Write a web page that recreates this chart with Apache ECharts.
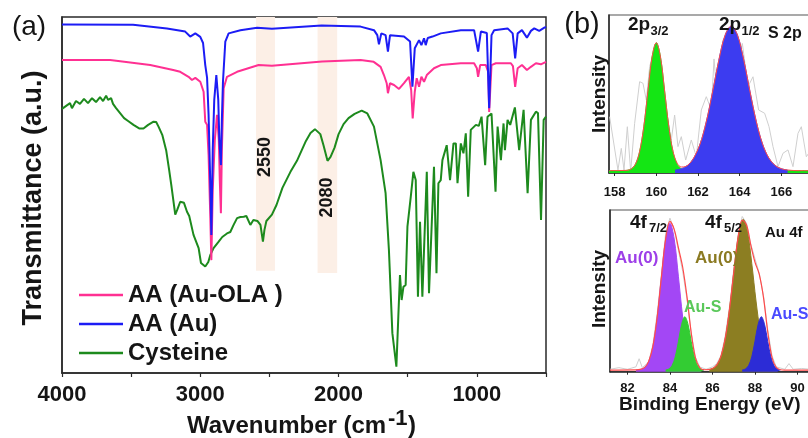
<!DOCTYPE html>
<html><head><meta charset="utf-8">
<script src="https://cdn.jsdelivr.net/npm/echarts@6/dist/echarts.min.js"></script>
<style>html,body{margin:0;padding:0;background:#fff;overflow:hidden}#c{width:840px;height:438px}</style>
</head><body><div id="c"></div>
<script>
// ---------- Panel (a): FTIR ----------
const ftirTickLabels = [4000, 3000, 2000, 1000];
const ftirLegend = ['AA (Au-OLA )', 'AA (Au)', 'Cysteine'];
const ftirBands = [[2597, 2460, 28.7], [2152, 2010, 28.1]];
const ftirBandLabels = ['2550', '2080'];

const ftirAuOLA = [[4000,87.9],[3652,87.9],[3362,86.5],[3196,85.1],[3145,84.6],[3085,83.2],[3060,82.3],[3036,82.9],[3000,81.8],[2976,79.0],[2964,70.6],[2951,69.7],[2940,61.2],[2928,44.4],[2920,31.7],[2910,51.4],[2895,65.4],[2879,72.5],[2866,65.4],[2859,54.2],[2851,44.9],[2844,62.6],[2831,80.0],[2807,83.2],[2734,84.6],[2578,86.5],[2482,86.3],[2119,87.5],[1841,87.9],[1746,87.4],[1696,86.0],[1672,83.7],[1652,81.4],[1643,78.6],[1628,81.4],[1599,80.9],[1563,79.8],[1527,81.4],[1491,83.2],[1475,79.5],[1464,71.5],[1449,79.0],[1435,82.8],[1418,80.4],[1401,83.2],[1382,81.8],[1362,83.7],[1310,85.6],[1261,86.5],[1116,87.0],[1020,87.0],[1000,85.6],[991,83.2],[976,86.5],[935,86.5],[918,84.6],[911,73.3],[894,86.5],[863,87.0],[754,87.0],[739,86.2],[723,80.4],[705,85.6],[674,86.5],[638,85.1],[609,86.0],[573,87.0],[537,86.7],[500,87.4]];

const ftirAu = [[4000,97.9],[3486,97.8],[3241,96.8],[3109,95.9],[3073,94.5],[3036,95.4],[3000,94.4],[2980,92.7],[2964,86.5],[2951,83.0],[2940,72.5],[2928,53.7],[2920,38.8],[2910,62.6],[2899,76.7],[2884,83.7],[2870,76.7],[2862,65.4],[2851,58.4],[2844,71.1],[2836,81.8],[2819,93.1],[2795,95.4],[2710,96.3],[2589,97.0],[2482,96.7],[2123,97.6],[1841,97.3],[1744,96.3],[1720,94.9],[1708,92.3],[1691,95.4],[1660,94.9],[1643,90.3],[1628,94.9],[1527,94.5],[1483,93.1],[1466,80.4],[1449,91.2],[1418,93.5],[1401,92.1],[1382,94.0],[1370,92.1],[1355,94.1],[1321,94.5],[1261,95.4],[1116,96.3],[1020,96.3],[991,90.3],[971,95.9],[928,95.5],[911,74.4],[894,94.9],[875,96.3],[778,96.8],[741,95.4],[723,88.4],[705,95.4],[674,96.3],[638,94.2],[609,96.1],[585,96.8],[549,96.1],[512,97.0],[500,97.2]];

const ftirCysteine = [[4000,74.2],[3942,75.8],[3928,74.4],[3899,76.4],[3870,75.6],[3841,77.0],[3812,75.8],[3783,77.2],[3754,76.1],[3725,77.5],[3703,76.4],[3681,77.9],[3667,76.7],[3645,77.2],[3631,75.6],[3609,74.4],[3580,73.0],[3551,71.6],[3522,70.8],[3483,69.7],[3442,68.7],[3411,68.7],[3377,69.7],[3338,70.6],[3319,70.5],[3302,69.2],[3275,66.9],[3246,62.4],[3225,57.0],[3210,52.9],[3181,44.5],[3167,45.8],[3145,48.1],[3118,47.8],[3096,45.3],[3080,44.1],[3049,38.8],[3012,35.1],[2995,30.9],[2964,29.9],[2942,31.2],[2928,33.1],[2904,35.1],[2867,36.9],[2841,38.2],[2807,39.2],[2783,39.6],[2759,41.6],[2734,43.5],[2710,43.8],[2686,43.9],[2667,44.1],[2638,41.6],[2616,43.0],[2587,42.7],[2565,41.6],[2547,36.9],[2536,40.2],[2522,42.7],[2482,44.5],[2449,47.2],[2406,52.0],[2348,56.5],[2301,59.6],[2236,65.2],[2203,67.4],[2171,68.5],[2132,67.1],[2109,64.0],[2080,59.6],[2058,60.7],[2029,63.3],[2000,67.1],[1964,69.9],[1928,71.6],[1884,72.8],[1833,73.7],[1792,72.9],[1744,69.2],[1696,59.8],[1660,50.5],[1636,34.6],[1611,11.2],[1582,1.8],[1568,15.8],[1556,27.5],[1544,20.5],[1531,24.2],[1515,24.7],[1502,41.1],[1478,49.5],[1459,56.5],[1442,54.2],[1426,21.4],[1411,42.5],[1394,21.4],[1362,56.5],[1346,22.4],[1310,57.9],[1292,28.0],[1278,53.3],[1261,54.2],[1249,59.8],[1218,64.0],[1194,54.2],[1169,64.5],[1152,64.5],[1140,53.3],[1116,64.5],[1097,61.7],[1080,67.3],[1063,49.5],[1044,68.3],[1007,69.7],[986,69.4],[966,72.0],[940,58.4],[923,72.0],[894,72.9],[865,50.9],[850,69.2],[826,59.8],[807,70.1],[797,62.6],[778,71.1],[759,69.7],[725,74.6],[694,62.6],[662,73.9],[633,50.5],[609,71.1],[573,73.4],[558,73.0],[536,43.0],[517,71.1],[500,72.0]];

// ---------- Panel (b) top: S 2p ----------
const s2pTicks = [158, 160, 162, 164, 166];
const s2pRaw = [[157.76,35.6],[158.16,1.9],[158.32,15.6],[158.45,1.9],[158.61,29.3],[158.77,0.8],[158.96,31.4],[159.2,57.8],[159.36,56.8],[159.52,46.2],[159.68,67.3],[159.97,82],[160.24,63],[160.48,39.9],[160.72,20.9],[160.88,36.7],[161.04,16.7],[161.2,23],[161.41,8.2],[161.68,20.9],[161.92,10.3],[162.16,39.9],[162.4,48.3],[162.64,39.9],[162.77,72.2],[162.88,54.6],[163.2,84.2],[163.6,90.5],[163.92,73.6],[164.13,82],[164.4,54.6],[164.64,60.9],[164.91,39.9],[165.2,37.8],[165.41,29.3],[165.6,16.7],[165.84,4],[166.08,12.5],[166.32,14.6],[166.56,4],[166.8,25.1],[166.96,29.3],[167.2,10.3],[167.6,18],[168,8]];
const s2p32 = [[157.73,1.5],[158.4,1.5],[158.6,1.7],[158.8,2.6],[159.0,5.6],[159.2,13.6],[159.4,29.3],[159.6,51.8],[159.8,73.5],[160.0,82.5],[160.2,73.5],[160.4,51.8],[160.6,29.3],[160.8,13.6],[161.0,5.6],[161.2,2.6],[161.4,1.7],[161.6,1.5],[168,1.5]];
const s2p12 = [[160.9,1.9],[161.2,2.7],[161.5,4.8],[161.8,9.5],[162.1,18.3],[162.4,32.5],[162.7,51.3],[163.0,71.3],[163.3,87.1],[163.6,93],[163.9,87.1],[164.2,71.3],[164.5,51.3],[164.8,32.5],[165.1,18.3],[165.4,9.5],[165.7,4.8],[166.0,2.7],[166.3,1.9]];
const s2pEnvelope = [[157.73,1.5],[158.4,1.6],[158.6,1.7],[158.8,2.6],[159.0,5.6],[159.2,13.6],[159.4,29.3],[159.6,51.8],[159.8,73.5],[160.0,82.5],[160.2,73.5],[160.4,51.8],[160.6,29.4],[160.8,13.8],[161.0,6.2],[161.2,3.8],[161.4,4.1],[161.6,6.0],[161.8,9.6],[162.1,18.3],[162.4,32.5],[162.7,51.3],[163.0,71.3],[163.3,87.1],[163.6,93],[163.9,87.1],[164.2,71.3],[164.5,51.3],[164.8,32.5],[165.1,18.3],[165.4,9.5],[165.7,4.8],[166.0,2.7],[166.3,1.9],[166.8,1.5],[168,1.5]];

// ---------- Panel (b) bottom: Au 4f ----------
const au4fTicks = [82, 84, 86, 88, 90];
const au4fRaw = [[81.18,1.5],[81.6,2.5],[82.0,1.5],[82.4,3],[82.55,8],[82.7,2.5],[83.0,6],[83.2,17],[83.4,36],[83.6,60],[83.8,86],[84.0,95],[84.2,88],[84.4,75],[84.6,62],[84.8,45],[85.0,24],[85.2,9],[85.4,3],[85.7,1.5],[86.0,3],[86.2,5],[86.4,10],[86.6,22],[86.8,40],[87.0,63],[87.2,84],[87.4,96],[87.6,92],[87.8,79],[88.0,70],[88.2,61],[88.4,47],[88.6,26],[88.8,10],[89.0,3],[89.4,1.5],[89.6,5],[89.8,1.5],[90.2,2],[90.6,1.5],[91.0,2.5],[91.53,1.5]];
const au0_72 = [[82.4,1.1],[82.6,1.4],[82.8,2.5],[83.0,6.3],[83.2,15.8],[83.4,33.8],[83.6,58.7],[83.8,82.1],[84.0,91.8],[84.2,82.1],[84.4,58.7],[84.6,33.8],[84.8,15.8],[85.0,6.3],[85.2,2.5],[85.4,1.4],[85.6,1.1]];
const auS_72 = [[83.8,1.1],[83.95,1.7],[84.1,3.8],[84.25,9.2],[84.4,18.8],[84.55,29.3],[84.7,34],[84.85,29.3],[85.0,18.8],[85.15,9.2],[85.3,3.8],[85.45,1.7],[85.6,1.1]];
const au0_52 = [[85.85,1.4],[86.05,2.3],[86.25,5.1],[86.45,11.7],[86.65,24.3],[86.85,43.7],[87.05,66.9],[87.25,86.5],[87.45,94.2],[87.65,86.5],[87.85,66.9],[88.05,43.7],[88.25,24.3],[88.45,11.7],[88.65,5.1],[88.85,2.3],[89.05,1.4]];
const auS_52 = [[87.4,1.1],[87.55,1.7],[87.7,3.8],[87.85,9.2],[88.0,18.8],[88.15,29.3],[88.3,34],[88.45,29.3],[88.6,18.8],[88.75,9.2],[88.9,3.8],[89.05,1.7],[89.2,1.1]];
const au4fEnvelope = [[81.18,1],[82.4,1.1],[82.6,1.4],[82.8,2.5],[83.0,6.4],[83.2,15.8],[83.4,33.8],[83.6,58.7],[83.8,82.2],[84.0,93],[84.2,88],[84.4,76.5],[84.6,64.6],[84.8,46.6],[85.0,24.2],[85.2,8.5],[85.4,2.5],[85.6,1.2],[85.8,1.3],[86.0,2.0],[86.2,4.1],[86.4,9.5],[86.6,20.4],[86.8,38.3],[87.0,61.1],[87.2,82.4],[87.4,93.8],[87.6,90.9],[87.8,78.6],[88.0,67.8],[88.2,60.3],[88.4,46],[88.6,24.7],[88.8,8.9],[89.0,2.7],[89.2,1.2],[89.4,1],[91.53,1]];

const FONT = 'Liberation Sans, Arial, sans-serif';
const INK = '#151515';
const AX = '#2a2a2a';

function txt(x, y, text, size, opts) {
  opts = opts || {};
  return {
    type: 'text', x: x, y: y, z: 100, rotation: opts.rot || 0,
    style: {
      text: text, fontSize: size, fontFamily: FONT,
      fontWeight: opts.weight || 'bold', fill: opts.color || INK,
      align: opts.align || 'left', verticalAlign: 'middle'
    }
  };
}

const chart = echarts.init(document.getElementById('c'));

function hiddenY(grid) {
  return { type: 'value', gridIndex: grid, min: 0, max: 100,
    axisLine: { show: true, lineStyle: { color: AX, width: 1.5 } },
    axisTick: { show: false }, axisLabel: { show: false }, splitLine: { show: false } };
}
function xpsX(grid, min, max, ticks, margin) {
  return { type: 'value', gridIndex: grid, min: min, max: max,
    axisLine: { lineStyle: { color: AX, width: 1.5 } },
    axisTick: { customValues: ticks, length: 3, lineStyle: { color: AX } },
    axisLabel: { customValues: ticks, fontSize: 13, fontWeight: 'bold', color: INK, fontFamily: FONT, margin: margin },
    splitLine: { show: false } };
}
function fit(name, data, color, gx, z) {
  return { name: name, type: 'line', xAxisIndex: gx, yAxisIndex: gx, data: data, smooth: 0.35,
    showSymbol: false, z: z, lineStyle: { color: color, width: 1 },
    areaStyle: { color: color, opacity: 1 }, itemStyle: { color: color } };
}

const option = {
  animation: false,
  backgroundColor: '#fff',
  grid: [
    { left: 62, top: 17, width: 484, height: 356, show: true, borderColor: AX, borderWidth: 1.5 },
    { left: 609, top: 15, width: 214, height: 158, show: true, borderColor: '#555', borderWidth: 1.2 },
    { left: 610, top: 210, width: 220, height: 161.7, show: true, borderColor: '#555', borderWidth: 1.2 }
  ],
  xAxis: [
    { type: 'value', gridIndex: 0, min: 500, max: 4000, interval: 500, inverse: true,
      axisLine: { lineStyle: { color: AX, width: 1.5 } },
      axisTick: { length: 4, lineStyle: { color: AX, width: 1.2 } },
      axisLabel: { formatter: v => ftirTickLabels.indexOf(v) >= 0 ? String(v) : '',
        fontSize: 22, fontWeight: 'bold', color: INK, fontFamily: FONT, margin: 11 },
      splitLine: { show: false } },
    xpsX(1, 157.73, 168, s2pTicks, 13),
    xpsX(2, 81.18, 91.53, au4fTicks, 10)
  ],
  yAxis: [hiddenY(0), hiddenY(1), hiddenY(2)],
  legend: {
    data: ftirLegend, orient: 'vertical', left: 79, top: 283, itemGap: 5, padding: 0,
    itemWidth: 44, itemHeight: 2.5, icon: 'rect', selectedMode: false,
    textStyle: { fontSize: 24, fontWeight: 'bold', color: INK, fontFamily: FONT, lineHeight: 24 }
  },
  series: [
    { name: 'bands', type: 'line', xAxisIndex: 0, yAxisIndex: 0, data: [], z: 1, silent: true,
      markArea: { silent: true, itemStyle: { color: '#fcefe6' },
        data: ftirBands.map(b => [{ xAxis: b[0], yAxis: b[2] }, { xAxis: b[1], yAxis: 100 }]) } },
    { name: 'Cysteine', type: 'line', xAxisIndex: 0, yAxisIndex: 0, data: ftirCysteine, showSymbol: false, z: 3,
      lineStyle: { color: '#1d8a1d', width: 2 }, itemStyle: { color: '#1d8a1d' } },
    { name: 'AA (Au-OLA )', type: 'line', xAxisIndex: 0, yAxisIndex: 0, data: ftirAuOLA, showSymbol: false, z: 4,
      lineStyle: { color: '#ff3092', width: 2 }, itemStyle: { color: '#ff3092' } },
    { name: 'AA (Au)', type: 'line', xAxisIndex: 0, yAxisIndex: 0, data: ftirAu, showSymbol: false, z: 5,
      lineStyle: { color: '#1c1cf5', width: 2 }, itemStyle: { color: '#1c1cf5' } },

    { name: 's2p raw', type: 'line', xAxisIndex: 1, yAxisIndex: 1, data: s2pRaw, showSymbol: false, z: 2,
      lineStyle: { color: '#cfcfcf', width: 1 } },
    fit('2p3/2', s2p32, '#14e614', 1, 3),
    fit('2p1/2', s2p12, '#3c3cf0', 1, 4),
    { name: 's2p env', type: 'line', xAxisIndex: 1, yAxisIndex: 1, data: s2pEnvelope, smooth: 0.35, showSymbol: false, z: 6,
      lineStyle: { color: '#ff4a4a', width: 1 } },

    { name: 'au raw', type: 'line', xAxisIndex: 2, yAxisIndex: 2, data: au4fRaw, showSymbol: false, z: 2,
      lineStyle: { color: '#cfcfcf', width: 1 } },
    fit('Au0 7/2', au0_72, '#a347f5', 2, 3),
    fit('AuS 7/2', auS_72, '#33cc33', 2, 4),
    fit('Au0 5/2', au0_52, '#8c7e22', 2, 3),
    fit('AuS 5/2', auS_52, '#2c2cd6', 2, 4),
    { name: 'au env', type: 'line', xAxisIndex: 2, yAxisIndex: 2, data: au4fEnvelope, smooth: 0.35, showSymbol: false, z: 6,
      lineStyle: { color: '#ff4a4a', width: 1.2 } }
  ],
  graphic: [
    txt(29, 27, '(a)', 28, { weight: 'normal', align: 'center' }),
    txt(34, 198, 'Transmittance (a.u.)', 27, { align: 'center', rot: Math.PI / 2 }),
    txt(187, 426, 'Wavenumber (cm', 24),
    txt(388, 419, '-1', 22),
    txt(408, 426, ')', 24),
    txt(265.5, 157, ftirBandLabels[0], 18, { align: 'center', rot: Math.PI / 2 }),
    txt(327.5, 197.5, ftirBandLabels[1], 18, { align: 'center', rot: Math.PI / 2 }),

    txt(582, 25, '(b)', 29, { weight: 'normal', align: 'center' }),
    txt(600, 94, 'Intensity', 19, { align: 'center', rot: Math.PI / 2 }),
    txt(600, 289, 'Intensity', 19, { align: 'center', rot: Math.PI / 2 }),
    txt(628, 25, '2p', 19), txt(650.5, 31, '3/2', 13),
    txt(719, 25, '2p', 19), txt(741.5, 31, '1/2', 13),
    txt(768, 34, 'S 2p', 16),
    txt(630, 223, '4f', 19), txt(649, 228, '7/2', 13),
    txt(705, 223, '4f', 19), txt(724, 228, '5/2', 13),
    txt(765, 233, 'Au 4f', 15),
    txt(615, 258, 'Au(0)', 17, { color: '#9d3fe8' }),
    txt(695, 258, 'Au(0)', 17, { color: '#8b7a22' }),
    txt(684, 308, 'Au-S', 16, { color: '#5ac85a' }),
    txt(771, 315, 'Au-S', 16, { color: '#4a4aff' }),
    txt(619, 405, 'Binding Energy (eV)', 19)
  ]
};
chart.setOption(option);
</script>
</body></html>
